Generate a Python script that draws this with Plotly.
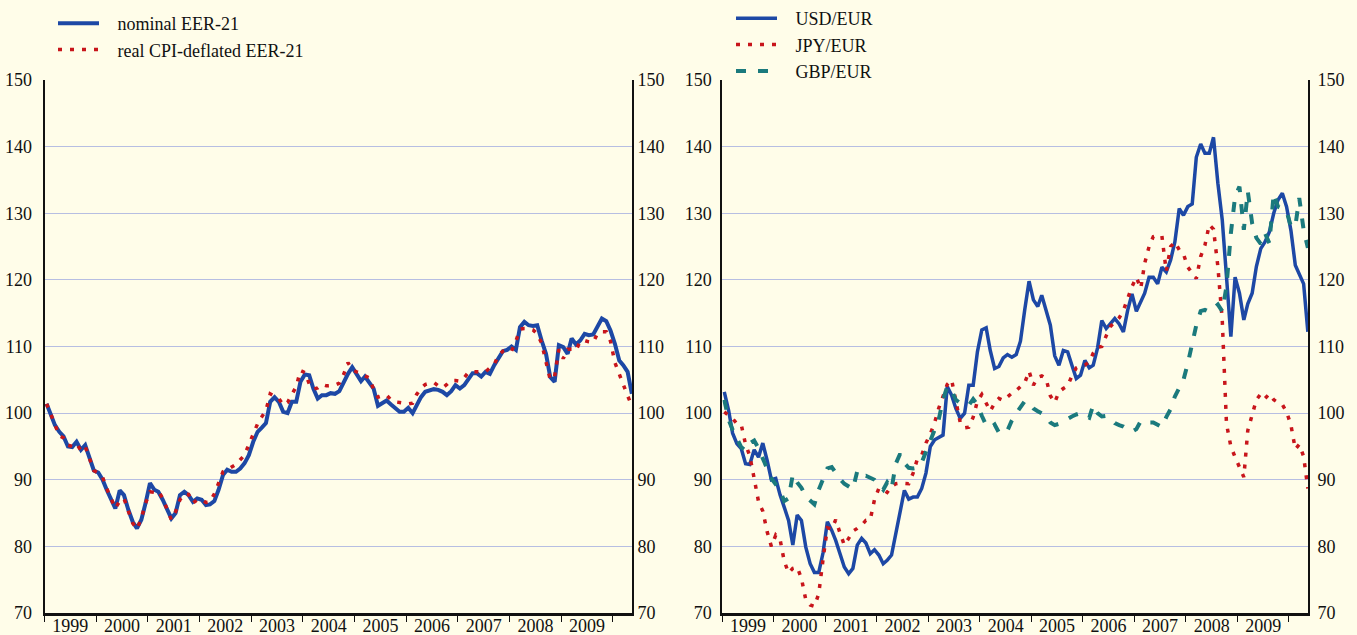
import pandas as pd
import plotly.graph_objects as go

# Monthly observations, January 1999 to May 2010 (index 1999 Q1 = 100)
months = pd.date_range("1999-01-01", periods=137, freq="MS") + pd.Timedelta(days=14)

eer_nominal = [
    101.4, 99.7, 98.2, 97.2, 96.5, 95.0, 94.9, 95.7, 94.5, 95.2, 93.4, 91.4,
    91.1, 90.0, 88.5, 87.0, 85.7, 88.4, 87.7, 85.5, 83.7, 82.7, 84.0, 86.5,
    89.5, 88.5, 88.2, 87.0, 85.7, 84.2, 85.0, 87.7, 88.2, 87.7, 86.7, 87.2,
    87.0, 86.2, 86.3, 86.8, 88.5, 90.7, 91.5, 91.2, 91.2, 91.7, 92.5, 93.7,
    95.7, 97.2, 97.8, 98.5, 101.7, 102.4, 101.7, 100.2, 100.0, 101.7, 101.7, 104.7,
    105.8, 105.7, 103.7, 102.2, 102.7, 102.7, 103.0, 102.9, 103.3, 104.7, 105.9, 106.9,
    105.9, 104.8, 105.5, 104.7, 103.7, 101.1, 101.5, 101.9, 101.3, 100.7, 100.2, 100.2,
    100.8, 100.0, 101.2, 102.4, 103.2, 103.4, 103.6, 103.5, 103.2, 102.7, 103.3, 104.2,
    103.7, 104.2, 105.0, 106.0, 106.0, 105.5, 106.2, 105.9, 107.2, 108.2, 109.3, 109.5,
    110.0, 109.5, 112.9, 113.7, 113.2, 113.1, 113.2, 110.9, 108.9, 105.4, 104.7, 110.2,
    109.9, 108.9, 111.2, 110.3, 110.9, 111.9, 111.7, 111.8, 112.9, 114.2, 113.8, 112.4,
    110.4, 107.9, 107.2, 106.2, 102.9,
]

eer_real = [
    101.4, 99.6, 98.3, 96.6, 96.3, 95.2, 95.0, 95.4, 94.4, 95.0, 93.1, 91.4,
    91.0, 90.4, 88.7, 87.1, 85.7, 86.8, 87.2, 85.3, 83.5, 82.6, 84.2, 86.5,
    88.2, 88.1, 88.3, 87.2, 85.6, 84.0, 85.2, 87.0, 87.9, 87.8, 86.5, 87.0,
    87.0, 86.6, 86.7, 87.9, 89.5, 91.2, 91.5, 91.9, 92.3, 93.0, 93.7, 95.3,
    96.9, 98.4, 99.4, 100.4, 102.9, 102.6, 102.2, 101.2, 101.6, 102.8, 104.0, 106.4,
    106.1, 104.4, 103.6, 103.8, 104.3, 104.1, 104.1, 104.2, 104.5, 105.8, 107.6, 106.5,
    106.2, 106.0, 105.6, 105.3, 103.6, 102.4, 102.6, 102.7, 102.0, 101.7, 101.6, 101.5,
    101.4, 101.5, 102.8, 103.7, 104.3, 104.5, 104.6, 104.1, 103.8, 104.3, 104.9, 104.9,
    104.8, 105.3, 106.1, 106.2, 106.2, 106.2, 106.2, 106.8, 107.3, 108.7, 109.3, 109.5,
    109.3, 110.8, 112.6, 112.7, 112.7, 112.5, 111.9, 110.5, 107.5, 105.0, 105.5, 109.6,
    108.2, 109.6, 109.6, 109.4, 110.8, 110.9, 110.7, 110.6, 112.0, 112.2, 112.2, 110.8,
    107.6, 105.8, 104.4, 102.6, 101.1,
]

usd_eur = [
    103.2, 100.4, 97.0, 95.4, 94.7, 92.4, 92.3, 94.5, 93.4, 95.5, 92.9, 90.0,
    90.2, 87.7, 85.9, 83.9, 80.2, 84.7, 83.9, 79.9, 77.4, 76.1, 76.1, 79.0,
    83.7, 82.4, 80.9, 78.9, 76.9, 75.9, 76.7, 80.2, 81.2, 80.5, 78.9, 79.5,
    78.7, 77.4, 77.9, 78.7, 81.7, 84.9, 88.4, 87.1, 87.4, 87.4, 88.7, 91.0,
    95.0, 96.0, 96.4, 96.7, 104.0, 102.7, 100.7, 99.2, 100.0, 104.2, 104.2, 109.2,
    112.5, 112.8, 109.4, 106.7, 107.0, 108.3, 108.8, 108.4, 108.8, 110.8, 115.6, 119.8,
    117.0, 116.0, 117.7, 115.4, 113.2, 108.6, 107.2, 109.4, 109.2, 107.2, 105.2, 105.7,
    107.9, 106.8, 107.2, 109.8, 113.9, 112.7, 113.4, 114.2, 113.4, 112.2, 115.5, 117.9,
    115.3, 116.7, 118.0, 120.4, 120.4, 119.4, 121.9, 121.2, 123.0, 125.7, 130.7, 129.7,
    131.0, 131.4, 138.4, 140.4, 139.0, 139.0, 141.4, 134.5, 129.0, 120.5, 111.5, 120.4,
    118.0, 114.0, 116.4, 118.0, 122.0, 124.7, 125.7, 127.2, 130.0, 132.0, 133.0, 131.0,
    127.4, 122.2, 121.0, 119.4, 112.2,
]

jpy_eur = [
    100.2, 99.6, 99.2, 98.4, 98.3, 95.3, 93.6, 90.2, 86.7, 85.3, 82.2, 80.0,
    81.7, 81.0, 77.8, 76.0, 76.7, 76.9, 75.2, 72.0, 71.2, 71.0, 72.9, 78.0,
    82.8, 82.6, 84.0, 82.0, 80.2, 81.2, 82.3, 82.7, 83.2, 83.9, 84.0, 87.0,
    88.7, 88.5, 88.1, 89.0, 89.4, 89.5, 89.5, 89.4, 91.0, 93.1, 93.7, 95.5,
    96.9, 98.6, 100.7, 102.6, 104.3, 105.0, 101.6, 98.6, 97.8, 97.9, 99.4, 101.8,
    102.8, 101.6, 100.3, 101.5, 102.2, 101.9, 102.5, 103.0, 103.4, 104.0, 104.6, 106.3,
    104.2, 105.4, 105.6, 105.2, 102.6, 101.6, 103.2, 103.7, 104.1, 105.6, 106.8, 107.1,
    107.2, 107.7, 109.0, 109.9, 110.0, 111.6, 113.0, 113.7, 114.3, 115.4, 117.2, 119.0,
    120.4, 118.7, 122.5, 125.0, 126.5, 126.7, 126.6, 121.3, 125.0, 125.7, 124.5, 123.9,
    121.9, 120.9, 120.2, 123.5, 125.2, 128.3, 127.6, 122.0, 114.0, 98.4, 95.0, 93.4,
    91.8, 90.4, 97.4, 100.0, 102.0, 102.9, 102.2, 102.9, 102.0, 101.6, 101.3, 100.2,
    98.2, 94.6, 95.3, 93.5, 88.7,
]

gbp_eur = [
    102.0, 99.0, 97.5, 96.0, 94.9, 94.4, 95.5, 95.9, 94.7, 93.2, 91.8, 90.2,
    89.3, 88.4, 86.8, 87.2, 90.8, 89.6, 88.8, 87.5, 86.9, 86.3, 88.5, 90.2,
    91.7, 91.9, 91.0, 90.1, 89.4, 88.9, 88.6, 91.3, 90.5, 90.6, 90.3, 90.0,
    89.2, 88.5, 89.6, 88.6, 92.4, 93.9, 92.5, 91.8, 91.7, 91.8, 92.6, 94.2,
    95.5, 97.5, 99.0, 102.0, 104.0, 103.4, 102.0, 101.5, 101.3, 101.2, 102.1, 101.3,
    99.6, 98.2, 97.8, 98.3, 97.1, 96.9, 97.4, 98.9, 100.0, 101.0, 101.8, 101.5,
    100.7, 100.3, 100.0, 99.6, 98.6, 98.2, 98.4, 98.8, 99.2, 99.5, 99.8, 100.0,
    99.6, 99.3, 101.2, 100.0, 99.5, 99.6, 99.2, 98.5, 98.2, 98.0, 97.6, 97.2,
    97.6, 98.8, 98.9, 98.6, 98.6, 98.2, 97.9, 99.4, 100.6, 102.5, 103.9, 105.0,
    107.5, 110.3, 113.2, 115.3, 115.5, 115.2, 115.7, 116.3, 115.3, 119.0, 127.0, 132.5,
    134.0, 127.5, 133.3, 128.5, 126.3, 125.4, 127.0, 125.5, 133.0, 131.0, 130.7, 130.3,
    128.0, 128.0, 132.3, 127.5, 124.8,
]

years = list(range(1999, 2011))
year_labels = [str(y) for y in range(1999, 2010)]
y_ticks = list(range(70, 151, 10))

BG = "#fffde9"
GRID = "#b7bee2"
BLUE = "#1d48a5"
RED = "#c8151b"
TEAL = "#1b7a7d"
FONT = dict(family="Liberation Serif, Times New Roman, serif", size=18, color="#111111")
PAD = "\u00a0\u00a0\u00a0"  # spacing between legend key and label

fig = go.Figure()

fig.add_trace(go.Scatter(x=months, y=eer_nominal, mode="lines", name=PAD + "nominal EER-21",
                         line=dict(color=BLUE, width=4), xaxis="x", yaxis="y", legend="legend"))
fig.add_trace(go.Scatter(x=months, y=eer_real, mode="lines",
                         name=PAD + "real CPI-deflated EER-21",
                         line=dict(color=RED, width=3.5, dash="4px,8px"), xaxis="x", yaxis="y",
                         legend="legend"))

fig.add_trace(go.Scatter(x=months, y=usd_eur, mode="lines", name=PAD + "USD/EUR",
                         line=dict(color=BLUE, width=3.5), xaxis="x2", yaxis="y2", legend="legend2"))
fig.add_trace(go.Scatter(x=months, y=jpy_eur, mode="lines", name=PAD + "JPY/EUR",
                         line=dict(color=RED, width=3.5, dash="4px,8px"), xaxis="x2", yaxis="y2",
                         legend="legend2"))
fig.add_trace(go.Scatter(x=months, y=gbp_eur, mode="lines", name=PAD + "GBP/EUR",
                         line=dict(color=TEAL, width=4, dash="10px,12px"), xaxis="x2", yaxis="y2",
                         legend="legend2"))

x_range = ["1999-01-01", "2010-05-16"]
label_pos = [f"{y}-07-02" for y in range(1999, 2010)]
boundary_pos = [f"{y}-01-01" for y in years]


def x_axis(domain, anchor):
    return dict(
        domain=domain, anchor=anchor, type="date", range=x_range,
        tickmode="array", tickvals=label_pos, ticktext=year_labels,
        ticks="", ticklabelstandoff=-5, showgrid=False, zeroline=False,
        showline=True, linecolor="#111111", linewidth=2.5,
        tickfont=FONT, automargin=False,
        minor=dict(tickmode="array", tickvals=boundary_pos, ticks="outside",
                   ticklen=6, tickwidth=1, tickcolor="#111111", showgrid=False),
    )


def y_axis(anchor, side, overlay=None, grid=True, standoff=7):
    d = dict(
        anchor=anchor, side=side, range=[70, 150], tickmode="array", tickvals=y_ticks,
        ticks="", ticklabelstandoff=standoff, showgrid=grid, gridcolor=GRID, gridwidth=1,
        zeroline=False, showline=True, linecolor="#111111", linewidth=2,
        tickfont=FONT, automargin=False, domain=[0.0346, 0.874],
    )
    if overlay:
        d["overlaying"] = overlay
    return d


left_dom = [44.6 / 1357, 632.0 / 1357]
right_dom = [722.3 / 1357, 1308.0 / 1357]

fig.update_layout(
    width=1357, height=635, autosize=False,
    margin=dict(l=0, r=0, t=0, b=0),
    paper_bgcolor=BG, plot_bgcolor=BG,
    font=FONT,
    xaxis=x_axis(left_dom, "y"),
    xaxis2=x_axis(right_dom, "y2"),
    yaxis=y_axis("x", "left", standoff=7),
    yaxis2=y_axis("x2", "left", standoff=5),
    yaxis3=y_axis("x", "right", overlay="y", grid=False, standoff=0),
    yaxis4=y_axis("x2", "right", overlay="y2", grid=False, standoff=4),
    legend=dict(x=53 / 1357, y=1 - 5 / 635, xanchor="left", yanchor="top",
                bgcolor="rgba(0,0,0,0)", font=FONT, itemwidth=41, tracegroupgap=0),
    legend2=dict(x=731 / 1357, y=1.0, xanchor="left", yanchor="top",
                 bgcolor="rgba(0,0,0,0)", font=FONT, itemwidth=41, tracegroupgap=0),
)

# empty traces so the right-hand value axes are drawn
fig.add_trace(go.Scatter(x=[months[0]], y=[None], xaxis="x", yaxis="y3", showlegend=False,
                         hoverinfo="skip"))
fig.add_trace(go.Scatter(x=[months[0]], y=[None], xaxis="x2", yaxis="y4", showlegend=False,
                         hoverinfo="skip"))

fig.write_html("out.html")
